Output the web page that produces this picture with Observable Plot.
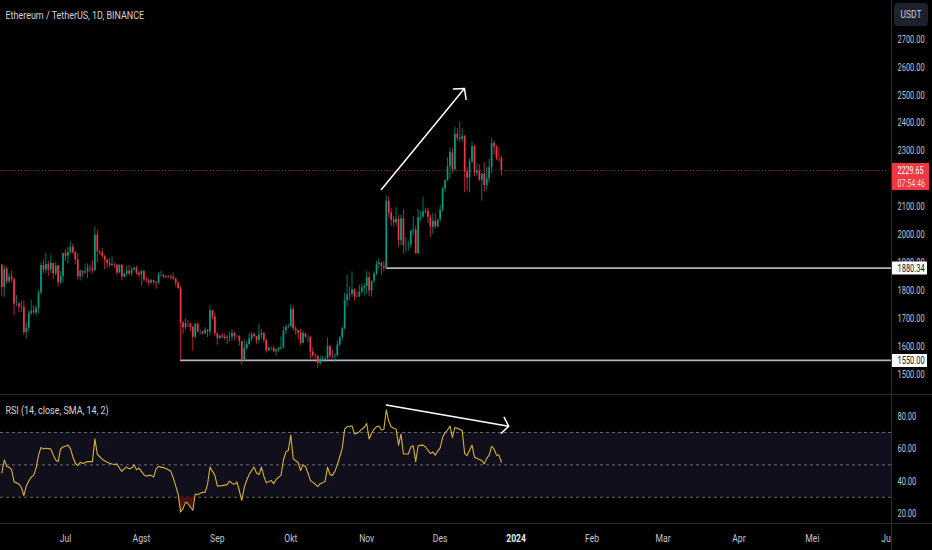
<!DOCTYPE html>
<html><head><meta charset="utf-8">
<script src="https://cdn.jsdelivr.net/npm/d3@7"></script>
<script src="https://cdn.jsdelivr.net/npm/@observablehq/plot@0.6"></script>
<style>
html,body{margin:0;padding:0;background:#000;}
#wrap{position:relative;width:932px;height:550px;background:#000;overflow:hidden;font-family:Roboto,"Noto Sans",sans-serif;}
#price{position:absolute;left:0;top:0;}
#rsi{position:absolute;left:0;top:395px;}
.hsep{position:absolute;left:0;width:932px;height:1px;background:#2a2e39;}
#corner{position:absolute;left:892px;top:524px;width:40px;height:26px;background:#000;}
.vsep{position:absolute;left:891px;top:0;width:1px;height:550px;background:#2a2e39;}
#usdt{position:absolute;left:894px;top:3px;width:34px;height:23px;background:#1e222d;border-radius:4px;color:#d1d4dc;font-size:10.5px;line-height:23px;text-align:center;}
#usdt span{display:inline-block;transform:scaleX(0.8);}
</style></head>
<body><div id="wrap">
<div id="price"></div>
<div class="hsep" style="top:394px"></div>
<div id="rsi"></div>
<div class="hsep" style="top:523px"></div>
<div id="corner"></div>
<div class="vsep"></div>
<div id="usdt"><span>USDT</span></div>
</div>
<script>
// ---- data (ETH/USDT daily, 5 Jun 2023 .. 26 Dec 2023) ----
const firstDate = "2023-06-05";
const openP = [
1891,1811,1877,1832,1848,1839,1752,1752,1741,1739,1650,1665,1718,1726,1720,1736,1791,1890,1873,1893,1874,1897,1860,1888,1828,1850,
1933,1923,1936,1955,1936,1910,1849,1869,1863,1867,1880,1878,1871,1999,1938,1935,1923,1908,1897,1890,1893,1891,1863,1891,1849,1859,1869,1860,1874,1880,1862,
1856,1869,1838,1835,1827,1835,1829,1826,1855,1855,1850,1848,1851,1847,1842,1826,1807,1684,1667,1682,1681,1668,1633,1680,1652,1652,1645,1658,1652,1728,1705,
1645,1628,1637,1633,1628,1633,1634,1646,1635,1636,1617,1553,1592,1607,1627,1642,1636,1622,1640,1646,1622,1584,1593,1593,1581,1587,1593,1596,1655,1670,
1671,1733,1663,1656,1647,1611,1646,1633,1633,1580,1567,1565,1539,1552,1555,1556,1600,1566,1564,1567,1605,1631,1663,1764,1783,1787,1803,1778,1777,1794,1810,
1815,1846,1799,1833,1859,1893,1898,1886,1880,2120,2077,2052,2043,2055,1978,2057,1961,1961,1963,2012,2016,1932,2061,2063,2081,2084,2062,2027,2048,2028,
2052,2088,2164,2193,2243,2293,2233,2359,2345,2341,2352,2225,2203,2260,2316,2220,2228,2196,2217,2176,2200,2240,2326,2314,2273,2272];
const highP = [
1892,1890,1885,1861,1870,1845,1782,1756,1762,1763,1685,1728,1765,1745,1745,1800,1900,1910,1935,1905,1927,1897,1900,1890,1868,1933,
1945,1955,1975,1966,1940,1932,1876,1870,1895,1895,1891,1906,2029,2015,1945,1950,1925,1915,1916,1920,1898,1894,1891,1891,1863,1888,1890,1882,1885,1886,1868,
1873,1870,1847,1842,1840,1838,1833,1864,1870,1858,1853,1853,1853,1863,1845,1832,1815,1691,1698,1693,1681,1673,1681,1683,1659,1653,1667,1661,1745,1730,1720,
1650,1640,1646,1644,1640,1650,1660,1652,1639,1638,1619,1625,1617,1646,1650,1649,1636,1680,1661,1650,1625,1601,1598,1600,1591,1598,1634,1670,1677,1681,
1750,1745,1673,1658,1662,1656,1647,1640,1635,1597,1574,1567,1566,1565,1565,1630,1604,1584,1575,1621,1635,1670,1790,1855,1815,1866,1806,1795,1819,1824,1826,
1869,1867,1834,1866,1904,1913,1900,1904,2139,2136,2093,2065,2097,2068,2070,2090,1990,1975,2016,2065,2030,2090,2083,2134,2095,2095,2070,2075,2075,2054,
2105,2170,2196,2275,2310,2308,2385,2380,2403,2380,2355,2240,2272,2332,2320,2255,2250,2220,2257,2240,2270,2344,2335,2318,2310,2280];
const lowP = [
1780,1775,1821,1825,1828,1710,1742,1720,1723,1640,1626,1652,1710,1715,1708,1716,1785,1860,1862,1850,1860,1840,1853,1813,1822,1826,
1905,1895,1930,1930,1893,1838,1835,1846,1858,1844,1862,1860,1869,1900,1925,1915,1875,1880,1883,1885,1880,1855,1861,1835,1842,1849,1853,1850,1870,1855,1846,
1815,1832,1827,1815,1823,1820,1805,1820,1846,1842,1841,1844,1839,1836,1813,1804,1550,1642,1659,1667,1652,1583,1626,1648,1641,1641,1642,1632,1637,1695,1636,
1604,1625,1627,1622,1607,1615,1620,1620,1630,1601,1531,1547,1585,1603,1616,1630,1608,1610,1627,1612,1576,1581,1585,1577,1565,1577,1585,1590,1643,1664,
1667,1655,1640,1625,1603,1609,1628,1614,1552,1558,1550,1522,1531,1546,1543,1551,1556,1555,1543,1562,1599,1620,1658,1743,1765,1776,1763,1774,1774,1786,1780,
1785,1778,1776,1825,1853,1875,1855,1868,1876,2060,2030,2026,2031,1955,1960,1931,1935,1940,1951,1996,1930,1930,2047,2057,2075,2040,1990,2001,2020,2025,
2046,2080,2150,2190,2200,2220,2226,2335,2330,2330,2150,2155,2150,2255,2208,2210,2190,2120,2154,2160,2185,2220,2285,2265,2260,2210];
const closeP = [
1811,1877,1832,1848,1839,1752,1752,1741,1739,1650,1665,1718,1726,1720,1736,1791,1890,1873,1893,1874,1897,1860,1888,1828,1850,1933,
1923,1936,1955,1936,1910,1849,1869,1863,1867,1880,1878,1871,1999,1938,1935,1923,1908,1897,1890,1893,1891,1863,1891,1849,1859,1869,1860,1874,1880,1862,1856,
1869,1838,1835,1827,1835,1829,1826,1855,1855,1850,1848,1851,1847,1842,1826,1807,1684,1667,1682,1681,1668,1633,1680,1652,1652,1645,1658,1652,1728,1705,1645,
1628,1637,1633,1628,1633,1634,1646,1635,1636,1617,1553,1592,1607,1627,1642,1636,1622,1640,1646,1622,1584,1593,1593,1581,1587,1593,1596,1655,1670,1671,
1733,1663,1656,1647,1611,1646,1633,1633,1580,1567,1565,1539,1552,1555,1556,1600,1566,1564,1567,1605,1631,1663,1764,1783,1787,1803,1778,1777,1794,1810,1815,
1846,1799,1833,1859,1893,1898,1886,1880,2120,2077,2052,2043,2055,1978,2057,1961,1961,1963,2012,2016,1932,2061,2063,2081,2084,2062,2027,2048,2028,2052,
2088,2164,2193,2243,2293,2233,2359,2345,2341,2352,2225,2203,2260,2316,2220,2228,2196,2217,2176,2200,2240,2326,2314,2273,2272,2229.65];
const rsiValues = [
45,53,49,48.5,47,39.5,39,38,36,31,37,40,42.5,43.5,48,56,60.8,59.8,60.2,60,59.8,56,53,52,59.8,61,
61.5,62.2,60,55,51,49.6,51.6,50.8,51.5,52,52,52,66,56.5,55,53.5,52.5,51.6,51,50.5,50.2,50.6,48,46,47.6,48.6,47.5,48,50,47,48,
46,43.9,43,43.5,43.5,42.4,47.5,49,48.6,48.3,47.8,47,46,42,37,32,21,23,27,26,24,22,32,31.6,32.5,33,33,38,48.6,46,43.5,
37,37,37.2,37.5,37.8,40,38.5,38,39.4,34,28,36,40.5,44,46.5,48.6,45,44,48.6,43,39,39.6,40.4,38.4,41,42.4,43.5,53,58,59,
68.4,53.7,52.5,51.6,46.5,50,49,45,40.4,39.2,38,36.5,38.4,39,39.8,48.6,44,43.5,46,50,55,60,72,73.5,73.8,74,69,69.5,70.5,72,73,
75.5,66,69.5,72,73.5,74,71.5,71.8,84,77,73.5,72.6,72,62.2,69,56.7,56.7,56.7,61,61.8,52,61.8,62,62.2,61,59,57,58,56,58.5,
60.5,67,69.8,71.5,74,67,73,72.5,72,71,57,55.7,59,62.2,54.7,54,53.3,52.7,50.6,54,56,61.4,59.8,56,56,51.6];
const lastPrice = 2229.65;
const countdown = "07:54:46";
const levelPrices = [1880.34, 1550.00];
const levelStarts = ["2023-11-09", "2023-08-17"];
// 2200 sits fully under the last-price label in the reference, so it is not drawn
const priceTicks = [1500,1600,1700,1800,1900,2000,2100,2300,2400,2500,2600,2700];
const rsiTicks = [80,60,40,20];
const rsiBands = [70,50,30];
const monthDates = ["2023-07-01","2023-08-01","2023-09-01","2023-10-01","2023-11-01","2023-12-01","2024-01-01","2024-02-01","2024-03-01","2024-04-01","2024-05-01","2024-06-01"];
const monthLabels = ["Jul","Agst","Sep","Okt","Nov","Des","2024","Feb","Mar","Apr","Mei","Jun"];
const priceArrow = {x1:"2023-11-07", y1:2162, x2:"2023-12-10T22:00", y2:2523};
const rsiArrow = {x1:"2023-11-09", y1:87, x2:"2023-12-29", y2:73.8};
const title = "Ethereum / TetherUS, 1D, BINANCE";
const rsiTitle = "RSI (14, close, SMA, 14, 2)";

// ---- build ----
const DAY = 864e5;
const JUL1 = Date.UTC(2023, 6, 1);
const t0 = Date.parse(firstDate + "T00:00Z");
const xDomain = [new Date(JUL1 - 26.54 * DAY), new Date(JUL1 + 337.3 * DAY)];
const GREEN = "#089981", RED = "#f23645";
const candles = closeP.map((c, i) => ({date: new Date(t0 + i * DAY), open: openP[i], high: highP[i], low: lowP[i], close: c}));
const rsiRows = rsiValues.map((v, i) => ({date: new Date(t0 + i * DAY), v}));
const levels = levelPrices.map((p, i) => ({price: p, start: new Date(levelStarts[i] + "T00:00Z")}));
const pd = s => new Date(s + (s.length > 10 ? ":00Z" : "T00:00Z"));
const months = monthDates.map((d, i) => ({date: pd(d), label: monthLabels[i]}));
const font = "Roboto, 'Noto Sans', sans-serif";
const axisColor = "#c3c6ce";

const pricePlot = Plot.plot({
  width: 932, height: 394, marginTop: 0, marginRight: 41, marginBottom: 0, marginLeft: 0,
  style: {background: "#000", color: axisColor, fontFamily: font, fontSize: "11px"},
  x: {type: "utc", domain: xDomain, axis: null},
  y: {domain: [1428, 2838.2], axis: null},
  marks: [
    Plot.ruleY([lastPrice], {stroke: RED, strokeOpacity: 0.55, strokeDasharray: "1,2"}),
    Plot.ruleY(levels, {y: "price", x1: "start", x2: d => xDomain[1], stroke: "#b2b5be", strokeWidth: 1.6}),
    Plot.ruleX(candles, {x: "date", y1: "low", y2: "high", stroke: d => d.close >= d.open ? GREEN : RED, strokeWidth: 1, strokeOpacity: 0.75}),
    Plot.ruleX(candles, {x: "date", y1: "open", y2: "close", stroke: d => d.close >= d.open ? GREEN : RED, strokeWidth: 1.7}),
    Plot.arrow([priceArrow], {x1: d => pd(d.x1), y1: "y1", x2: d => pd(d.x2), y2: "y2", stroke: "#ffffff", strokeWidth: 1.5, headLength: 11, headAngle: 96}),
    Plot.text(priceTicks, {y: d => d, text: d => d.toFixed(2), frameAnchor: "right", textAnchor: "start", dx: 6, fill: axisColor}),
    Plot.ruleY(levels, {y: "price", insetLeft: 891, insetRight: -36, stroke: "#ffffff", strokeWidth: 13}),
    Plot.text(levels, {y: "price", text: d => d.price.toFixed(2), frameAnchor: "right", textAnchor: "start", dx: 6, fill: "#131722"}),
    Plot.ruleY([lastPrice], {insetLeft: 891, insetRight: -38, stroke: RED, strokeWidth: 27, dy: 6}),
    Plot.text([lastPrice], {y: d => d, text: d => d.toFixed(2), frameAnchor: "right", textAnchor: "start", dx: 6, fill: "#ffffff", fontSize: 10.5}),
    Plot.text([lastPrice], {y: d => d, text: d => countdown, frameAnchor: "right", textAnchor: "start", dx: 6, dy: 13, fill: "#ffd6d9", fontSize: 10.5}),
    Plot.text([title], {text: d => d, frameAnchor: "top-left", textAnchor: "start", lineAnchor: "middle", dx: 5, dy: 15, fill: "#d1d4dc", fontSize: 11.5})
  ]
});

const rsiPlot = Plot.plot({
  width: 932, height: 155, marginTop: 0, marginRight: 41, marginBottom: 27, marginLeft: 0,
  style: {background: "#000", color: axisColor, fontFamily: font, fontSize: "11px"},
  x: {type: "utc", domain: xDomain, axis: null},
  y: {domain: [13.8, 92.8], axis: null},
  marks: [
    Plot.rect([0], {y1: 30, y2: 70, fill: "#120f1d"}),
    Plot.ruleY(rsiBands, {stroke: "#787b86", strokeOpacity: 0.85, strokeDasharray: "3,3"}),
    Plot.areaY(rsiRows, {x: "date", y1: 30, y2: d => Math.min(d.v, 30), fill: "#4a1212"}),
    Plot.lineY(rsiRows, {x: "date", y: "v", stroke: "#d4b238", strokeWidth: 1.1}),
    Plot.arrow([rsiArrow], {x1: d => pd(d.x1), y1: "y1", x2: d => pd(d.x2), y2: "y2", stroke: "#ffffff", strokeWidth: 1.5, headLength: 10, headAngle: 106}),
    Plot.text(rsiTicks, {y: d => d, text: d => d.toFixed(2), frameAnchor: "right", textAnchor: "start", dx: 6, fill: axisColor}),
    Plot.text(months.filter(m => !/^\d+$/.test(m.label)), {x: "date", text: "label", frameAnchor: "bottom", lineAnchor: "middle", dy: 15, fill: axisColor}),
    Plot.text(months.filter(m => /^\d+$/.test(m.label)), {x: "date", text: "label", frameAnchor: "bottom", lineAnchor: "middle", dy: 15, fill: "#e8eaf0", fontWeight: "bold"}),
    Plot.text([rsiTitle], {text: d => d, frameAnchor: "top-left", textAnchor: "start", lineAnchor: "middle", dx: 5, dy: 15, fill: "#d1d4dc", fontSize: 11.5})
  ]
});

// narrow the glyphs like the reference's condensed UI font
function squeeze(svg) {
  svg.querySelectorAll("text").forEach(t => {
    const s = /[.:]/.test(t.textContent) && /^\d/.test(t.textContent) ? 0.68 : 0.78;
    const x = +(t.getAttribute("x") || 0);
    const tr = t.getAttribute("transform") || "";
    t.setAttribute("transform", `${tr} translate(${x},0) scale(${s},1) translate(${-x},0)`);
  });
}
squeeze(pricePlot);
squeeze(rsiPlot);
document.getElementById("price").appendChild(pricePlot);
document.getElementById("rsi").appendChild(rsiPlot);
</script>
</body></html>
